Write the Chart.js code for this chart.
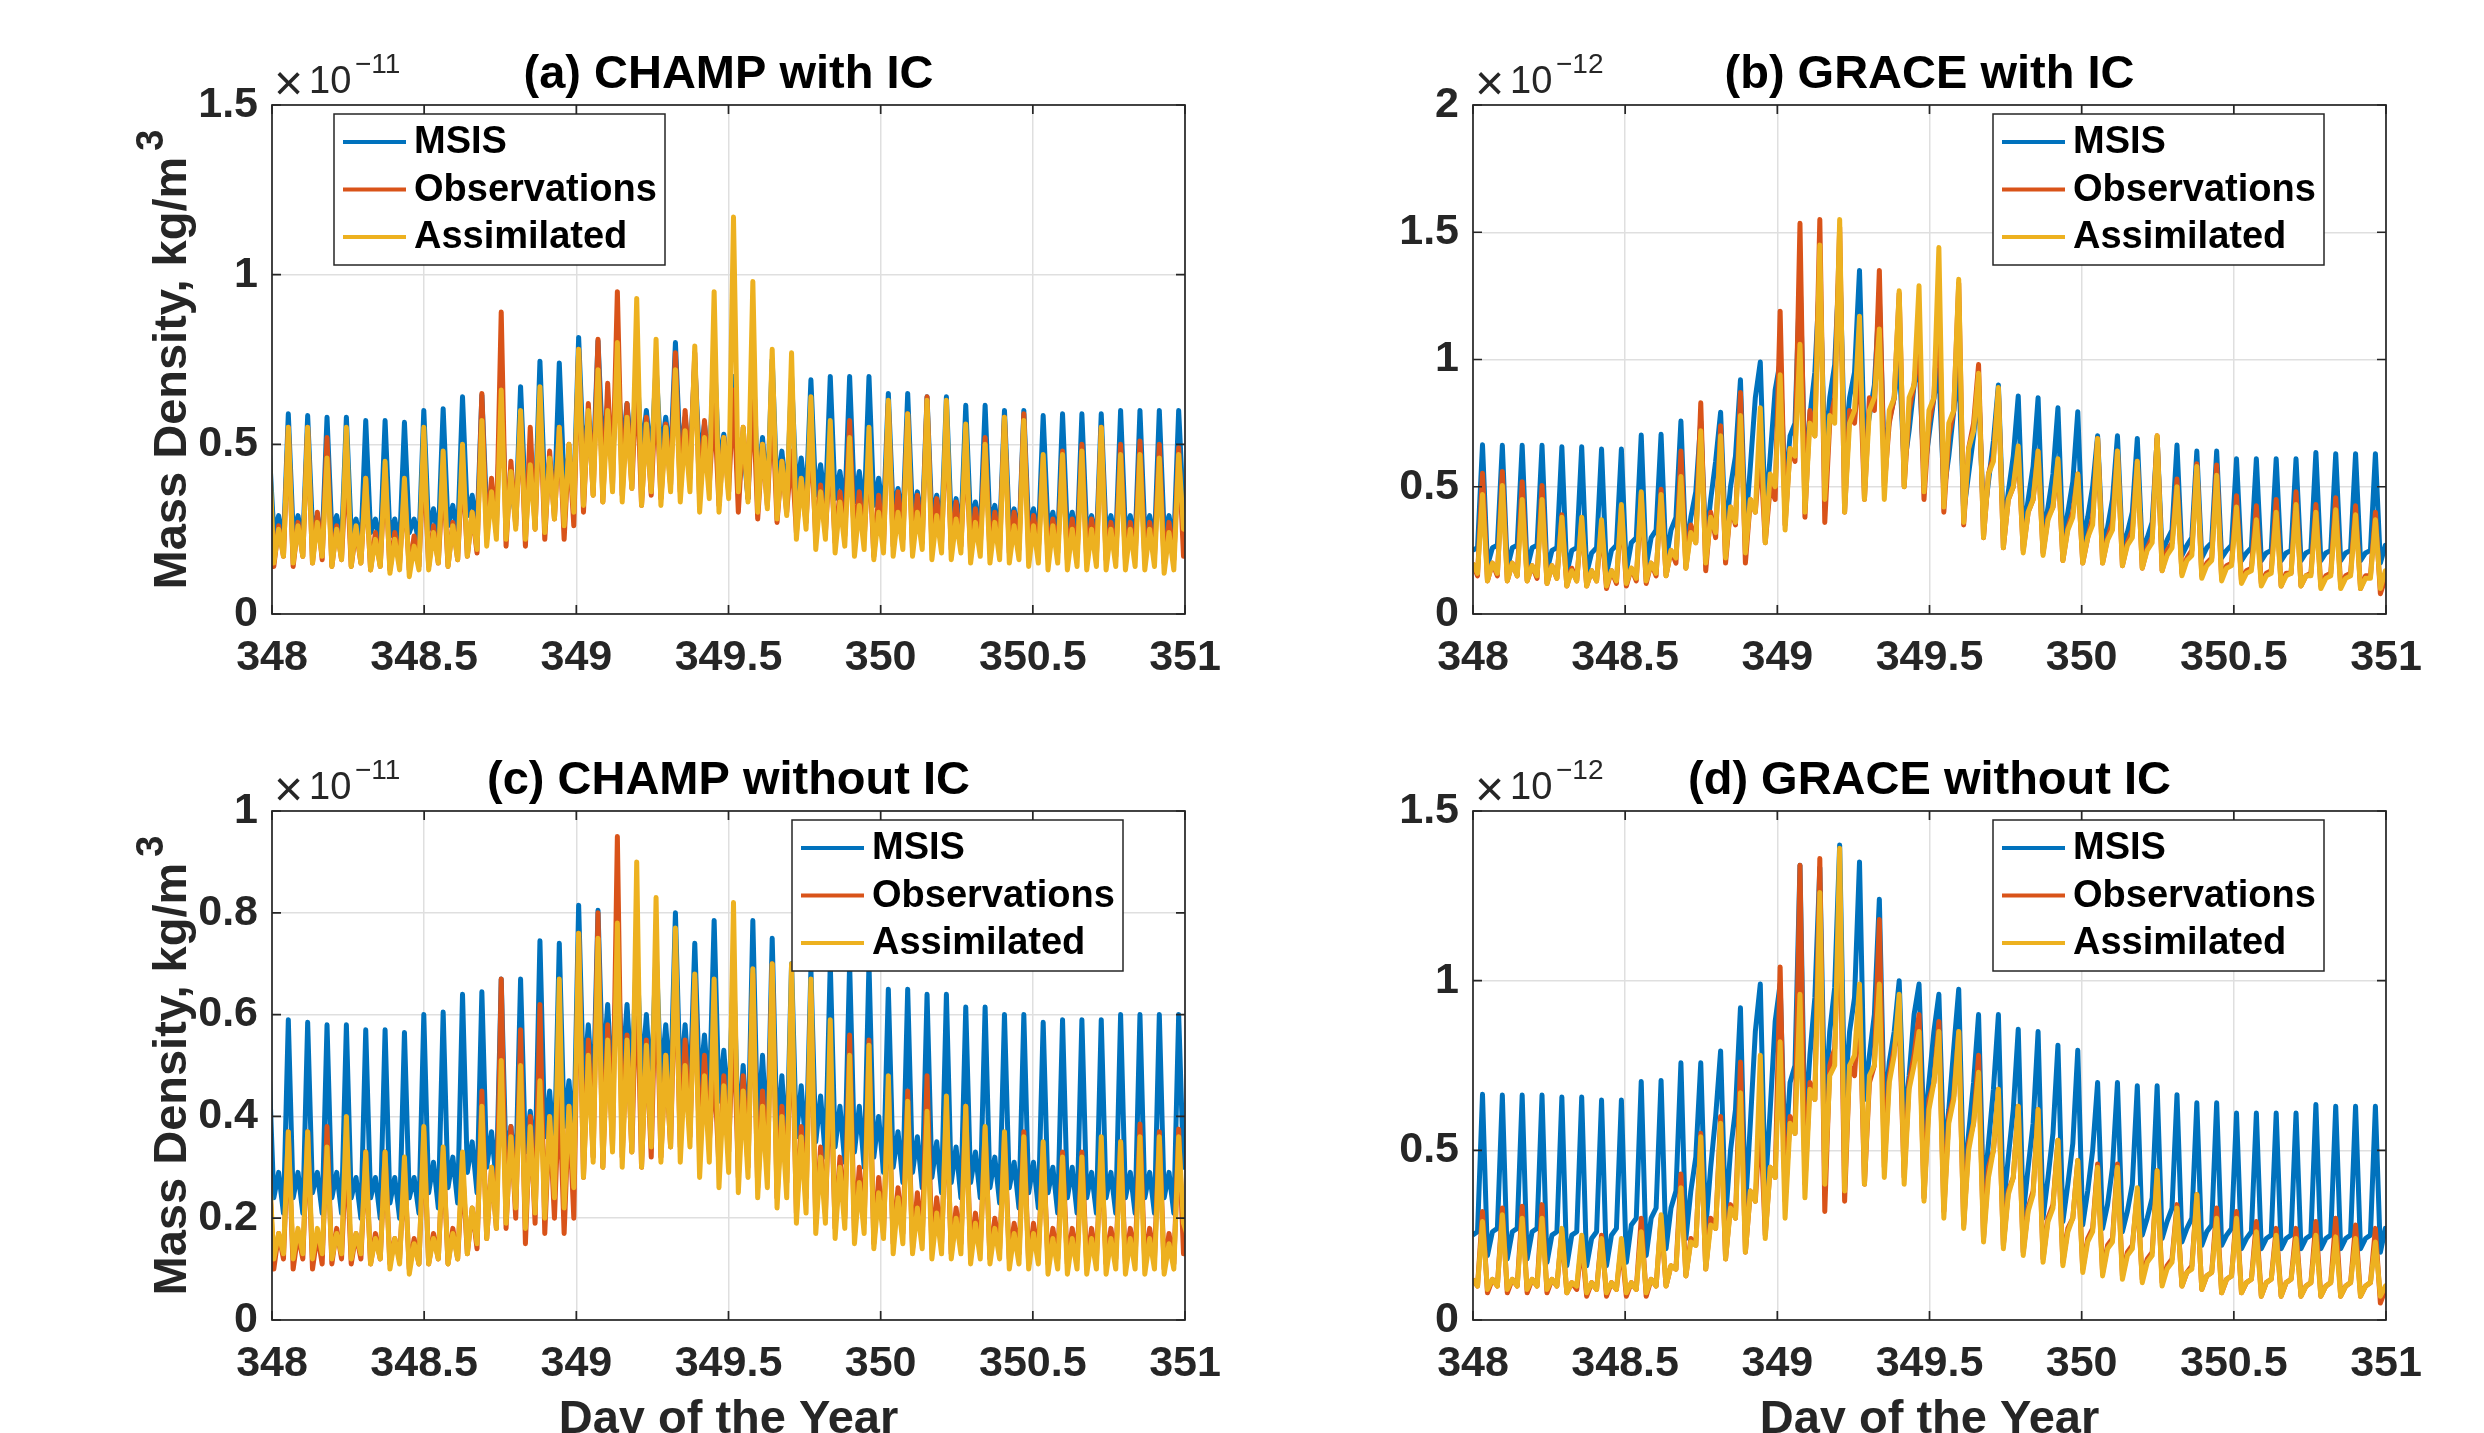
<!DOCTYPE html>
<html>
<head>
<meta charset="utf-8">
<script src="https://cdn.jsdelivr.net/npm/chart.js@4.4.1/dist/chart.umd.min.js"></script>
<style>
  body { margin: 0; background: #fff; }
  #fig { position: relative; width: 2484px; height: 1433px; overflow: hidden; background: #fff; }
  #fig canvas { position: absolute; }
</style>
</head>
<body>
<div id="fig">
  <canvas id="pa" width="1242" height="716" style="left:0;top:0"></canvas>
  <canvas id="pb" width="1242" height="716" style="left:1242px;top:0"></canvas>
  <canvas id="pc" width="1242" height="717" style="left:0;top:716px"></canvas>
  <canvas id="pd" width="1242" height="717" style="left:1242px;top:716px"></canvas>
</div>
<script>
// values, 4 samples per orbit: peak, dip, bump, pre-peak low
const orbitSamples = 4;
const champPeriod = 0.0636, champStart = 347.99;   // days
const gracePeriod = 0.0652, graceStart = 347.966;

const dayTicks = [348, 348.5, 349, 349.5, 350, 350.5, 351];
const champTicksA = [0, 0.5, 1, 1.5];
const graceTicksB = [0, 0.5, 1, 1.5, 2];
const champTicksC = [0, 0.2, 0.4, 0.6, 0.8, 1];
const graceTicksD = [0, 0.5, 1, 1.5];

const seriesNames = ['MSIS', 'Observations', 'Assimilated'];
const seriesColors = ['#0072BD', '#D95319', '#EDB120'];

// CHAMP, x 1e-11 kg/m^3
const champMsis = [
  0.50,0.24,0.29,0.21, 0.59,0.24,0.29,0.21, 0.585,0.25,0.29,0.21, 0.58,0.24,0.29,0.21,
  0.58,0.24,0.28,0.20, 0.57,0.24,0.28,0.20, 0.57,0.23,0.28,0.20, 0.565,0.24,0.28,0.21,
  0.60,0.25,0.31,0.22, 0.605,0.26,0.32,0.23, 0.64,0.29,0.35,0.25, 0.645,0.30,0.37,0.27,
  0.67,0.31,0.38,0.28, 0.67,0.33,0.41,0.30, 0.745,0.36,0.45,0.33, 0.74,0.38,0.47,0.35,
  0.815,0.46,0.58,0.43, 0.805,0.48,0.62,0.44, 0.74,0.48,0.62,0.46, 0.74,0.47,0.60,0.45,
  0.73,0.47,0.58,0.45, 0.80,0.46,0.58,0.44, 0.74,0.45,0.56,0.43, 0.785,0.43,0.53,0.40,
  0.70,0.36,0.50,0.34, 0.785,0.37,0.52,0.34, 0.75,0.36,0.48,0.33, 0.70,0.36,0.46,0.33,
  0.69,0.35,0.44,0.32, 0.70,0.34,0.42,0.31, 0.70,0.33,0.42,0.30, 0.70,0.32,0.40,0.29,
  0.65,0.30,0.37,0.27, 0.65,0.29,0.36,0.26, 0.64,0.28,0.35,0.25, 0.64,0.27,0.34,0.24,
  0.615,0.27,0.33,0.24, 0.615,0.26,0.32,0.23, 0.60,0.26,0.31,0.22, 0.60,0.25,0.31,0.22,
  0.585,0.25,0.30,0.21, 0.59,0.24,0.30,0.21, 0.59,0.24,0.29,0.21, 0.59,0.24,0.29,0.21,
  0.60,0.24,0.29,0.21, 0.60,0.24,0.29,0.21, 0.60,0.24,0.29,0.21, 0.60,0.30,0.30,0.25
];
const champObsA = [
  0.40,0.14,0.26,0.17, 0.55,0.14,0.27,0.17, 0.55,0.15,0.30,0.16, 0.52,0.14,0.26,0.16,
  0.45,0.14,0.25,0.15, 0.40,0.13,0.24,0.14, 0.43,0.13,0.24,0.15, 0.37,0.13,0.23,0.14,
  0.47,0.14,0.26,0.15, 0.42,0.14,0.27,0.16, 0.45,0.17,0.30,0.18, 0.65,0.22,0.40,0.24,
  0.89,0.20,0.45,0.26, 0.58,0.20,0.55,0.25, 0.63,0.22,0.48,0.28, 0.55,0.22,0.50,0.26,
  0.78,0.30,0.62,0.35, 0.81,0.33,0.68,0.38, 0.95,0.35,0.62,0.37, 0.72,0.32,0.58,0.35,
  0.67,0.34,0.56,0.38, 0.77,0.36,0.60,0.40, 0.77,0.34,0.57,0.38, 0.62,0.32,0.52,0.36,
  0.66,0.30,0.55,0.34, 0.66,0.28,0.50,0.32, 0.62,0.27,0.45,0.30, 0.48,0.24,0.40,0.27,
  0.54,0.22,0.38,0.24, 0.48,0.21,0.36,0.23, 0.57,0.21,0.36,0.22, 0.48,0.17,0.35,0.20,
  0.62,0.20,0.36,0.22, 0.59,0.19,0.35,0.21, 0.64,0.20,0.34,0.21, 0.57,0.19,0.33,0.20,
  0.50,0.18,0.31,0.20, 0.52,0.18,0.30,0.19, 0.58,0.18,0.30,0.19, 0.59,0.18,0.29,0.19,
  0.46,0.17,0.28,0.18, 0.48,0.16,0.28,0.17, 0.50,0.16,0.28,0.17, 0.55,0.16,0.27,0.17,
  0.50,0.16,0.27,0.17, 0.51,0.16,0.27,0.17, 0.50,0.15,0.27,0.16, 0.49,0.17,0.26,0.16
];
const champAssimA = [
  0.50,0.15,0.25,0.17, 0.55,0.15,0.26,0.17, 0.55,0.15,0.27,0.17, 0.46,0.14,0.25,0.16,
  0.55,0.14,0.26,0.15, 0.40,0.13,0.22,0.14, 0.45,0.12,0.22,0.13, 0.40,0.11,0.20,0.13,
  0.55,0.13,0.24,0.15, 0.48,0.14,0.26,0.16, 0.50,0.17,0.30,0.19, 0.57,0.20,0.36,0.22,
  0.66,0.22,0.42,0.25, 0.60,0.22,0.44,0.25, 0.67,0.24,0.46,0.28, 0.55,0.26,0.50,0.30,
  0.78,0.32,0.60,0.35, 0.72,0.33,0.60,0.36, 0.80,0.33,0.58,0.37, 0.93,0.32,0.56,0.36,
  0.81,0.32,0.55,0.36, 0.72,0.33,0.54,0.36, 0.79,0.30,0.52,0.34, 0.95,0.30,0.52,0.34,
  1.17,0.36,0.55,0.33, 0.98,0.30,0.50,0.31, 0.78,0.28,0.45,0.29, 0.77,0.22,0.40,0.25,
  0.64,0.19,0.36,0.22, 0.57,0.18,0.33,0.20, 0.52,0.17,0.32,0.19, 0.55,0.16,0.30,0.18,
  0.63,0.17,0.30,0.19, 0.59,0.17,0.30,0.19, 0.63,0.16,0.29,0.18, 0.63,0.16,0.28,0.18,
  0.56,0.15,0.27,0.17, 0.50,0.15,0.27,0.16, 0.58,0.15,0.26,0.16, 0.57,0.14,0.26,0.15,
  0.47,0.13,0.26,0.15, 0.47,0.13,0.25,0.14, 0.48,0.13,0.25,0.14, 0.55,0.13,0.25,0.14,
  0.47,0.13,0.25,0.14, 0.47,0.13,0.25,0.14, 0.46,0.12,0.24,0.13, 0.47,0.25,0.25,0.14
];
const champObsC = [
  0.30,0.10,0.17,0.12, 0.37,0.10,0.17,0.12, 0.37,0.10,0.17,0.11, 0.38,0.11,0.18,0.12,
  0.34,0.11,0.17,0.12, 0.33,0.11,0.17,0.12, 0.33,0.11,0.16,0.12, 0.30,0.10,0.16,0.11,
  0.37,0.11,0.17,0.12, 0.33,0.11,0.18,0.12, 0.30,0.13,0.22,0.14, 0.45,0.16,0.30,0.18,
  0.67,0.18,0.38,0.20, 0.57,0.15,0.40,0.19, 0.62,0.17,0.40,0.20, 0.46,0.17,0.42,0.20,
  0.76,0.28,0.55,0.32, 0.80,0.30,0.58,0.34, 0.95,0.32,0.56,0.33, 0.70,0.30,0.55,0.32,
  0.70,0.32,0.52,0.34, 0.72,0.34,0.55,0.36, 0.67,0.33,0.52,0.35, 0.50,0.30,0.48,0.33,
  0.60,0.28,0.48,0.30, 0.68,0.26,0.45,0.29, 0.70,0.24,0.42,0.27, 0.62,0.21,0.38,0.24,
  0.64,0.19,0.34,0.21, 0.50,0.18,0.32,0.20, 0.56,0.17,0.30,0.19, 0.55,0.15,0.28,0.17,
  0.46,0.15,0.26,0.17, 0.45,0.14,0.25,0.16, 0.48,0.14,0.24,0.15, 0.42,0.13,0.22,0.15,
  0.42,0.13,0.21,0.14, 0.375,0.12,0.20,0.14, 0.36,0.12,0.19,0.13, 0.37,0.11,0.19,0.13,
  0.34,0.11,0.18,0.12, 0.33,0.11,0.18,0.12, 0.33,0.11,0.18,0.12, 0.33,0.11,0.18,0.12,
  0.35,0.11,0.18,0.12, 0.385,0.11,0.18,0.12, 0.37,0.10,0.17,0.11, 0.375,0.13,0.17,0.11
];
const champAssimC = [
  0.31,0.12,0.17,0.13, 0.37,0.12,0.18,0.13, 0.37,0.12,0.18,0.13, 0.34,0.12,0.17,0.13,
  0.40,0.12,0.17,0.13, 0.33,0.11,0.16,0.12, 0.33,0.10,0.16,0.11, 0.32,0.09,0.15,0.11,
  0.38,0.11,0.16,0.12, 0.34,0.11,0.17,0.12, 0.33,0.13,0.22,0.15, 0.42,0.16,0.30,0.18,
  0.51,0.19,0.36,0.22, 0.50,0.18,0.38,0.21, 0.47,0.20,0.40,0.24, 0.67,0.22,0.42,0.26,
  0.76,0.28,0.52,0.31, 0.75,0.30,0.55,0.33, 0.78,0.30,0.55,0.33, 0.90,0.30,0.54,0.34,
  0.83,0.31,0.52,0.34, 0.77,0.31,0.50,0.34, 0.68,0.28,0.48,0.31, 0.67,0.26,0.46,0.29,
  0.82,0.25,0.45,0.28, 0.69,0.24,0.42,0.26, 0.70,0.22,0.40,0.24, 0.70,0.19,0.36,0.21,
  0.67,0.17,0.32,0.19, 0.59,0.16,0.30,0.18, 0.52,0.15,0.27,0.17, 0.54,0.14,0.25,0.16,
  0.48,0.13,0.24,0.15, 0.43,0.13,0.22,0.14, 0.41,0.12,0.21,0.13, 0.44,0.12,0.20,0.13,
  0.42,0.11,0.19,0.12, 0.38,0.11,0.18,0.12, 0.37,0.10,0.17,0.11, 0.36,0.10,0.17,0.11,
  0.35,0.09,0.16,0.10, 0.32,0.09,0.16,0.10, 0.32,0.09,0.16,0.10, 0.36,0.09,0.16,0.10,
  0.35,0.09,0.16,0.10, 0.36,0.09,0.16,0.10, 0.36,0.09,0.15,0.10, 0.36,0.19,0.16,0.10
];

// GRACE, x 1e-12 kg/m^3
const graceMsis = [
  0.60,0.19,0.25,0.26, 0.665,0.19,0.26,0.27, 0.663,0.18,0.26,0.27, 0.663,0.18,0.26,0.27,
  0.663,0.17,0.25,0.26, 0.657,0.16,0.25,0.26, 0.657,0.16,0.24,0.26, 0.648,0.16,0.25,0.27,
  0.648,0.17,0.28,0.30, 0.703,0.19,0.30,0.33, 0.706,0.21,0.33,0.38, 0.758,0.24,0.38,0.48,
  0.758,0.27,0.45,0.60, 0.793,0.30,0.50,0.62, 0.92,0.33,0.58,0.85, 0.99,0.38,0.62,0.88,
  0.99,0.48,0.70,0.75, 1.34,0.55,0.78,0.95, 1.333,0.62,0.85,0.98, 1.40,0.65,0.85,0.95,
  1.35,0.65,0.78,0.90, 1.24,0.60,0.76,0.85, 1.00,0.58,0.72,0.90, 0.99,0.55,0.70,0.85,
  0.96,0.48,0.62,0.80, 0.975,0.40,0.55,0.70, 0.90,0.36,0.52,0.68, 0.90,0.33,0.48,0.62,
  0.857,0.31,0.45,0.58, 0.85,0.30,0.42,0.55, 0.81,0.29,0.40,0.52, 0.795,0.28,0.38,0.50,
  0.70,0.27,0.34,0.45, 0.70,0.26,0.32,0.40, 0.69,0.25,0.30,0.36, 0.69,0.24,0.29,0.33,
  0.664,0.23,0.27,0.30, 0.64,0.22,0.26,0.28, 0.64,0.22,0.25,0.27, 0.61,0.21,0.24,0.26,
  0.61,0.21,0.24,0.25, 0.61,0.21,0.24,0.25, 0.61,0.21,0.24,0.25, 0.635,0.21,0.24,0.25,
  0.63,0.21,0.24,0.25, 0.63,0.21,0.24,0.25, 0.63,0.20,0.27,0.25
];
const graceObsB = [
  0.45,0.13,0.20,0.15, 0.553,0.13,0.20,0.15, 0.56,0.13,0.20,0.15, 0.52,0.13,0.19,0.14,
  0.505,0.12,0.19,0.14, 0.39,0.11,0.18,0.13, 0.37,0.11,0.17,0.13, 0.35,0.10,0.17,0.12,
  0.42,0.11,0.18,0.13, 0.47,0.12,0.20,0.15, 0.49,0.15,0.25,0.20, 0.64,0.18,0.35,0.28,
  0.83,0.17,0.40,0.30, 0.74,0.20,0.42,0.35, 0.87,0.20,0.45,0.40, 0.65,0.28,0.50,0.45,
  1.19,0.35,0.65,0.60, 1.535,0.38,0.80,0.70, 1.55,0.36,0.75,0.85, 1.52,0.40,0.80,0.75,
  1.00,0.45,0.85,0.80, 1.35,0.50,0.75,0.85, 1.26,0.50,0.80,0.90, 1.10,0.45,0.75,0.85,
  1.25,0.40,0.70,0.80, 1.30,0.35,0.65,0.75, 0.98,0.30,0.55,0.62, 0.88,0.26,0.45,0.50,
  0.64,0.25,0.40,0.45, 0.64,0.24,0.38,0.42, 0.60,0.21,0.34,0.40, 0.55,0.20,0.30,0.38,
  0.69,0.20,0.30,0.36, 0.64,0.19,0.28,0.33, 0.60,0.18,0.26,0.30, 0.70,0.17,0.25,0.28,
  0.53,0.16,0.22,0.25, 0.59,0.15,0.20,0.22, 0.585,0.14,0.19,0.20, 0.465,0.13,0.17,0.18,
  0.425,0.12,0.16,0.17, 0.45,0.11,0.16,0.16, 0.48,0.11,0.15,0.16, 0.43,0.11,0.15,0.16,
  0.457,0.11,0.15,0.16, 0.425,0.10,0.15,0.15, 0.40,0.08,0.14,0.15
];
const graceAssimB = [
  0.40,0.14,0.20,0.16, 0.47,0.13,0.20,0.16, 0.505,0.13,0.20,0.15, 0.45,0.13,0.19,0.15,
  0.45,0.12,0.19,0.14, 0.38,0.11,0.17,0.13, 0.38,0.11,0.17,0.13, 0.37,0.11,0.17,0.13,
  0.43,0.12,0.18,0.14, 0.48,0.13,0.20,0.16, 0.47,0.15,0.25,0.22, 0.54,0.18,0.32,0.28,
  0.72,0.20,0.38,0.32, 0.70,0.22,0.42,0.36, 0.78,0.24,0.45,0.40, 0.81,0.28,0.55,0.50,
  0.94,0.33,0.65,0.62, 1.06,0.40,0.75,0.70, 1.45,0.45,0.78,0.75, 1.55,0.40,0.75,0.80,
  1.17,0.45,0.80,0.85, 1.12,0.45,0.80,0.85, 1.27,0.50,0.85,0.90, 1.29,0.48,0.80,0.85,
  1.44,0.42,0.75,0.80, 1.315,0.36,0.65,0.72, 0.946,0.30,0.55,0.60, 0.89,0.26,0.45,0.50,
  0.66,0.24,0.40,0.45, 0.64,0.23,0.37,0.42, 0.61,0.21,0.33,0.38, 0.55,0.20,0.30,0.35,
  0.69,0.20,0.29,0.33, 0.64,0.19,0.27,0.30, 0.60,0.18,0.25,0.28, 0.70,0.17,0.23,0.26,
  0.50,0.15,0.21,0.23, 0.58,0.14,0.19,0.21, 0.545,0.13,0.18,0.19, 0.42,0.12,0.16,0.17,
  0.37,0.11,0.15,0.16, 0.40,0.11,0.15,0.16, 0.43,0.11,0.15,0.15, 0.40,0.10,0.14,0.15,
  0.41,0.10,0.14,0.15, 0.39,0.10,0.14,0.14, 0.37,0.10,0.17,0.14
];
const graceObsD = [
  0.26,0.08,0.12,0.10, 0.32,0.08,0.12,0.10, 0.33,0.08,0.12,0.10, 0.335,0.08,0.12,0.10,
  0.34,0.08,0.12,0.10, 0.26,0.08,0.11,0.09, 0.23,0.07,0.11,0.09, 0.25,0.07,0.11,0.09,
  0.22,0.07,0.11,0.09, 0.30,0.07,0.12,0.10, 0.30,0.10,0.16,0.15, 0.43,0.13,0.24,0.22,
  0.55,0.15,0.30,0.27, 0.60,0.18,0.34,0.30, 0.76,0.20,0.38,0.35, 0.60,0.25,0.45,0.42,
  1.04,0.35,0.60,0.55, 1.34,0.40,0.70,0.65, 1.36,0.32,0.75,0.80, 1.25,0.35,0.75,0.72,
  0.95,0.40,0.70,0.75, 1.18,0.45,0.72,0.80, 0.88,0.42,0.70,0.78, 0.90,0.36,0.65,0.70,
  0.88,0.32,0.60,0.66, 0.85,0.28,0.52,0.58, 0.78,0.24,0.45,0.50, 0.68,0.22,0.38,0.42,
  0.63,0.20,0.33,0.38, 0.62,0.18,0.30,0.34, 0.53,0.17,0.27,0.30, 0.47,0.15,0.24,0.27,
  0.46,0.14,0.22,0.24, 0.46,0.13,0.20,0.22, 0.37,0.12,0.18,0.20, 0.44,0.11,0.16,0.18,
  0.34,0.10,0.14,0.16, 0.37,0.09,0.13,0.14, 0.33,0.08,0.12,0.13, 0.32,0.08,0.11,0.12,
  0.29,0.07,0.11,0.12, 0.27,0.07,0.11,0.12, 0.27,0.07,0.10,0.11, 0.29,0.07,0.10,0.11,
  0.30,0.07,0.10,0.11, 0.28,0.07,0.10,0.11, 0.27,0.05,0.09,0.10
];
const graceAssimD = [
  0.24,0.09,0.12,0.10, 0.29,0.09,0.12,0.10, 0.31,0.09,0.12,0.10, 0.30,0.09,0.12,0.10,
  0.30,0.09,0.12,0.10, 0.27,0.08,0.11,0.10, 0.25,0.08,0.11,0.09, 0.24,0.08,0.11,0.09,
  0.24,0.08,0.11,0.09, 0.26,0.08,0.12,0.10, 0.31,0.10,0.16,0.15, 0.39,0.13,0.23,0.22,
  0.54,0.15,0.28,0.27, 0.58,0.18,0.33,0.30, 0.67,0.20,0.38,0.35, 0.78,0.24,0.45,0.42,
  0.82,0.30,0.58,0.55, 0.96,0.36,0.68,0.65, 1.26,0.40,0.72,0.75, 1.39,0.38,0.75,0.78,
  0.99,0.40,0.72,0.75, 0.99,0.42,0.70,0.78, 0.96,0.40,0.68,0.75, 0.85,0.35,0.62,0.70,
  0.85,0.30,0.58,0.65, 0.85,0.27,0.50,0.58, 0.73,0.23,0.42,0.50, 0.68,0.21,0.37,0.42,
  0.63,0.19,0.32,0.37, 0.62,0.17,0.29,0.33, 0.53,0.16,0.26,0.30, 0.47,0.14,0.23,0.26,
  0.45,0.13,0.21,0.23, 0.45,0.12,0.19,0.21, 0.39,0.11,0.17,0.19, 0.44,0.10,0.15,0.17,
  0.33,0.10,0.14,0.15, 0.37,0.09,0.13,0.14, 0.30,0.08,0.12,0.13, 0.30,0.08,0.11,0.12,
  0.26,0.07,0.11,0.12, 0.25,0.07,0.11,0.12, 0.24,0.07,0.10,0.11, 0.25,0.07,0.10,0.11,
  0.245,0.07,0.10,0.11, 0.24,0.07,0.10,0.11, 0.23,0.07,0.10,0.11
];

const FONT = '"Liberation Sans", Arial, Helvetica, sans-serif';

function toPoints(values, start, period) {
  const step = period / orbitSamples;
  return values.map((v, i) => ({ x: start + i * step, y: v }));
}

// frame, inward ticks, title, exponent, axis labels and legend box (Matlab look)
const decor = {
  id: 'decor',
  afterDraw(chart, args, o) {
    const ctx = chart.ctx, a = chart.chartArea;
    const xs = chart.scales.x, ys = chart.scales.y;
    ctx.save();
    ctx.strokeStyle = '#262626';
    ctx.lineWidth = 1.7;
    ctx.strokeRect(a.left, a.top, a.right - a.left, a.bottom - a.top);
    ctx.beginPath();
    xs.ticks.forEach(t => {
      const p = xs.getPixelForValue(t.value);
      ctx.moveTo(p, a.bottom); ctx.lineTo(p, a.bottom - 9);
      ctx.moveTo(p, a.top); ctx.lineTo(p, a.top + 9);
    });
    ys.ticks.forEach(t => {
      const p = ys.getPixelForValue(t.value);
      ctx.moveTo(a.left, p); ctx.lineTo(a.left + 9, p);
      ctx.moveTo(a.right, p); ctx.lineTo(a.right - 9, p);
    });
    ctx.stroke();

    const cx = (a.left + a.right) / 2;
    ctx.fillStyle = '#000';
    ctx.textAlign = 'center';
    ctx.textBaseline = 'alphabetic';
    ctx.font = 'bold 47px ' + FONT;
    ctx.fillText(o.title, cx, a.top - 17);

    // x 10^n
    ctx.fillStyle = '#262626';
    ctx.textAlign = 'left';
    ctx.font = '50px ' + FONT;
    ctx.fillText('\u00d7', a.left + 2, a.top - 5);
    ctx.font = '38px ' + FONT;
    ctx.fillText('10', a.left + 37, a.top - 12);
    ctx.font = '28px ' + FONT;
    ctx.fillText(o.exponent, a.left + 83, a.top - 32);

    if (o.ylabel) {
      ctx.save();
      ctx.translate(186, (a.top + a.bottom) / 2);
      ctx.rotate(-Math.PI / 2);
      ctx.font = 'bold 47px ' + FONT;
      const main = 'Mass Density, kg/m';
      const wm = ctx.measureText(main).width;
      ctx.font = 'bold 38px ' + FONT;
      const ws = ctx.measureText('3').width;
      const x0 = -(wm + ws + 6) / 2;
      ctx.font = 'bold 47px ' + FONT;
      ctx.fillText(main, x0, 0);
      ctx.font = 'bold 38px ' + FONT;
      ctx.fillText('3', x0 + wm + 6, -23);
      ctx.restore();
    }
    if (o.xlabel) {
      ctx.textAlign = 'center';
      ctx.font = 'bold 47px ' + FONT;
      ctx.fillText('Day of the Year', cx, a.bottom + 113);
    }

    const bw = 331, bh = 151;
    const bx = o.legendSide === 'left' ? a.left + 62 : a.right - 62 - bw;
    const by = a.top + 9;
    ctx.fillStyle = '#fff';
    ctx.fillRect(bx, by, bw, bh);
    ctx.strokeStyle = '#262626';
    ctx.lineWidth = 1.5;
    ctx.strokeRect(bx, by, bw, bh);
    ctx.font = 'bold 38px ' + FONT;
    ctx.textAlign = 'left';
    ctx.textBaseline = 'middle';
    seriesNames.forEach((name, i) => {
      const y = by + 28 + i * 47.5;
      ctx.strokeStyle = seriesColors[i];
      ctx.lineWidth = 4;
      ctx.beginPath();
      ctx.moveTo(bx + 9, y); ctx.lineTo(bx + 72, y);
      ctx.stroke();
      ctx.fillStyle = '#000';
      ctx.fillText(name, bx + 80, y + 1);
    });
    ctx.restore();
  }
};

const panels = [
  { id: 'pa', title: '(a) CHAMP with IC', exponent: '\u221211', yTicks: champTicksA,
    start: champStart, period: champPeriod, series: [champMsis, champObsA, champAssimA],
    legendSide: 'left', ylabel: true, xlabel: false, area: [272, 105, 1185, 614] },
  { id: 'pb', title: '(b) GRACE with IC', exponent: '\u221212', yTicks: graceTicksB,
    start: graceStart, period: gracePeriod, series: [graceMsis, graceObsB, graceAssimB],
    legendSide: 'right', ylabel: false, xlabel: false, area: [231, 105, 1144, 614] },
  { id: 'pc', title: '(c) CHAMP without IC', exponent: '\u221211', yTicks: champTicksC,
    start: champStart, period: champPeriod, series: [champMsis, champObsC, champAssimC],
    legendSide: 'right', ylabel: true, xlabel: true, area: [272, 95, 1185, 604] },
  { id: 'pd', title: '(d) GRACE without IC', exponent: '\u221212', yTicks: graceTicksD,
    start: graceStart, period: gracePeriod, series: [graceMsis, graceObsD, graceAssimD],
    legendSide: 'right', ylabel: false, xlabel: true, area: [231, 95, 1144, 604] }
];

const tickFont = { family: FONT, size: 43, weight: 'bold' };
const gridStyle = { color: '#dfdfdf', lineWidth: 1.5, drawTicks: false };

panels.forEach(p => {
  const canvas = document.getElementById(p.id);
  const W = canvas.width, H = canvas.height;
  const [L, T, R, B] = p.area;
  const yTicks = p.yTicks;
  new Chart(canvas.getContext('2d'), {
    type: 'line',
    data: {
      datasets: p.series.map((vals, i) => ({
        label: seriesNames[i],
        data: toPoints(vals, p.start, p.period),
        borderColor: seriesColors[i],
        backgroundColor: seriesColors[i],
        borderWidth: 5,
        borderJoinStyle: 'round',
        pointRadius: 0,
        tension: 0,
        clip: 0,
        order: 3 - i
      }))
    },
    options: {
      responsive: false,
      animation: false,
      events: [],
      parsing: false,
      layout: { padding: { top: T, right: W - R, left: 0, bottom: 0 } },
      plugins: {
        legend: { display: false },
        tooltip: { enabled: false },
        decor: p
      },
      scales: {
        x: {
          type: 'linear', min: 348, max: 351,
          afterBuildTicks: s => { s.ticks = dayTicks.map(v => ({ value: v })); },
          afterFit: s => { s.height = H - B; s.paddingLeft = 0; s.paddingRight = 0; },
          ticks: { autoSkip: false, maxRotation: 0, padding: 18, color: '#262626', font: tickFont,
                   callback: v => String(v) },
          grid: gridStyle,
          border: { display: false }
        },
        y: {
          type: 'linear', min: 0, max: yTicks[yTicks.length - 1],
          afterBuildTicks: s => { s.ticks = yTicks.map(v => ({ value: v })); },
          afterFit: s => { s.width = L; s.paddingTop = 0; s.paddingBottom = 0; },
          ticks: { padding: 14, color: '#262626', font: tickFont,
                   callback: v => String(Math.round(v * 10) / 10) },
          grid: gridStyle,
          border: { display: false }
        }
      }
    },
    plugins: [decor]
  });
});
</script>
</body>
</html>
